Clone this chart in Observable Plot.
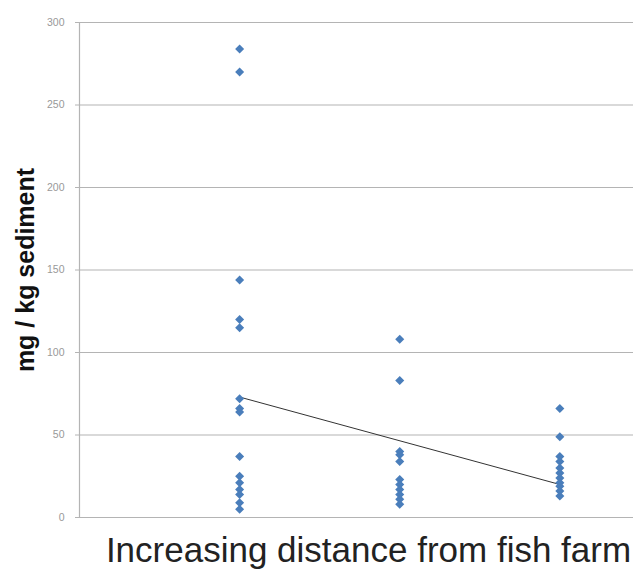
<!DOCTYPE html>
<html><head><meta charset="utf-8">
<script src="https://cdn.jsdelivr.net/npm/d3@7"></script>
<script src="https://cdn.jsdelivr.net/npm/@observablehq/plot@0.6"></script>
<style>body{margin:0;background:#fff}</style>
</head><body><div id="chart"></div>
<script>
// Data
const site1 = [284, 270, 144, 120, 115, 72, 66, 64, 37, 25, 21, 17, 14, 9, 5];
const site2 = [108, 83, 40, 38, 34, 23, 20, 17, 14, 11, 8];
const site3 = [66, 49, 37, 34, 30, 27, 24, 21, 19, 16, 13];
const trendX = [1, 3];
const trendY = [73, 20];
const yTicks = [0, 50, 100, 150, 200, 250, 300];
const xLabel = "Increasing distance from fish farm";
const yLabel = "mg / kg sediment";

const points = [
  ...site1.map(v => ({site: 1, value: v})),
  ...site2.map(v => ({site: 2, value: v})),
  ...site3.map(v => ({site: 3, value: v}))
];
const trend = trendX.map((x, i) => ({site: x, value: trendY[i]}));

const chart = Plot.plot({
  width: 633,
  height: 574,
  marginLeft: 79,
  marginRight: 0,
  marginTop: 22,
  marginBottom: 57,
  style: {fontFamily: "'Liberation Sans', Arial, sans-serif", background: "#fff"},
  x: {type: "linear", domain: [0, 3.46], axis: null},
  y: {type: "linear", domain: [0, 300], axis: null},
  marks: [
    Plot.ruleY(yTicks, {stroke: "#b4b4b4", strokeWidth: 1.2}),
    Plot.ruleX([0], {stroke: "#b4b4b4", strokeWidth: 1.2}),
    Plot.axisY(yTicks, {tickSize: 4, tickPadding: 11, fontSize: 10.5, color: "#999", label: null, stroke: "#b4b4b4"}),
    Plot.line(trend, {x: "site", y: "value", stroke: "#333", strokeWidth: 1}),
    Plot.dot(points, {x: "site", y: "value", symbol: "square", rotate: 45, r: 3.6, fill: "#4a7ebb", stroke: "none"}),
    Plot.text([yLabel], {frameAnchor: "left", textAnchor: "middle", dx: -54, rotate: -90, fontSize: 25, fontWeight: "bold", fill: "#111"}),
    Plot.text([xLabel], {frameAnchor: "bottom", textAnchor: "middle", dx: 12, dy: 44, fontSize: 35, fill: "#222"})
  ]
});
document.getElementById("chart").append(chart);
</script>
</body></html>
